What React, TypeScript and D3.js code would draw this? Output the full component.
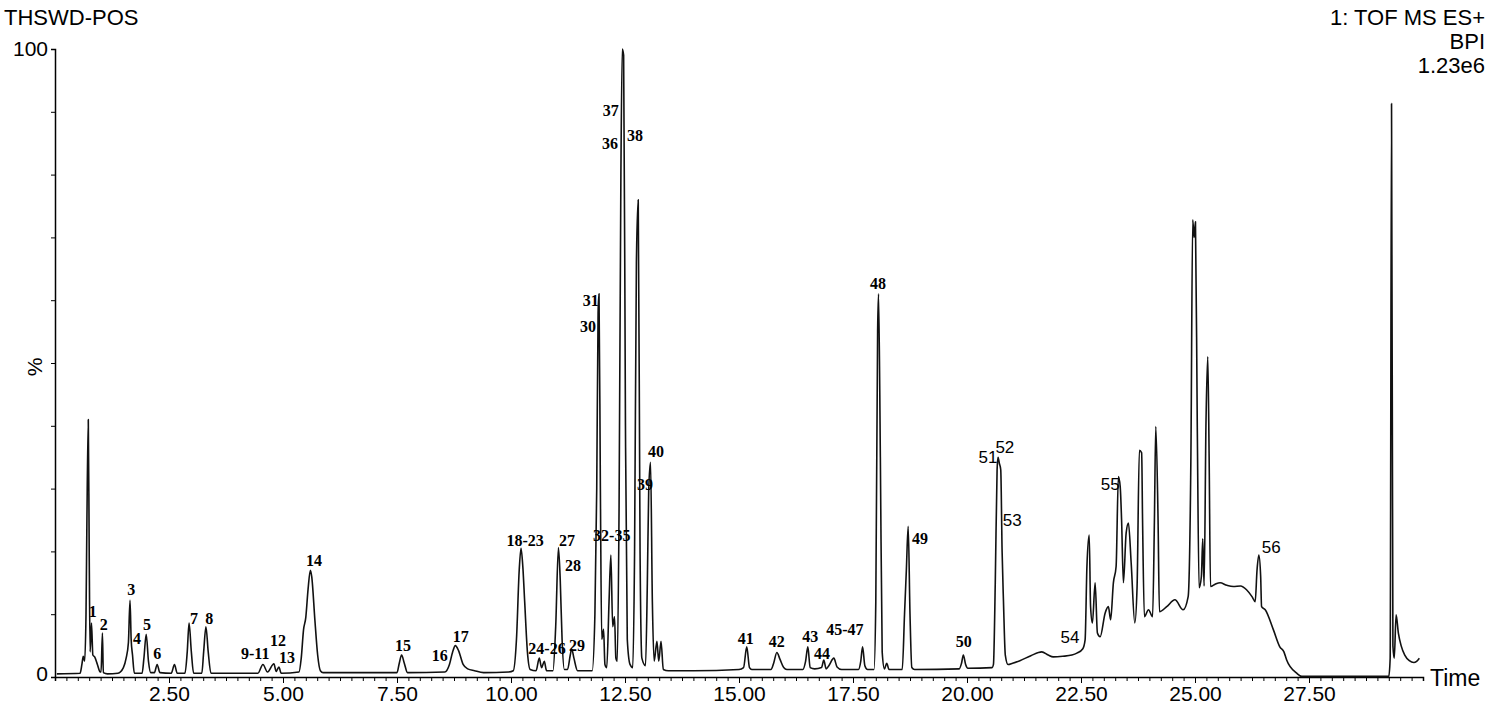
import React, { useRef, useEffect } from 'react'
import * as d3 from 'd3'

const W = 1497
const H = 707

// chromatogram trace: [retention time (min), intensity (%)]
const traceEarly = [
  [0.04, 0.5], [0.55, 0.6], [0.59, 2.0], [0.62, 3.3], [0.65, 2.5], [0.68, 10], [0.70, 25], [0.73, 41],
  [0.75, 20], [0.77, 4], [0.80, 8.6], [0.83, 3.5], [0.87, 3.2], [0.93, 2.0], [0.99, 0.8], [1.01, 0.8],
  [1.04, 7.0], [1.06, 0.7], [1.15, 0.5], [1.38, 0.6], [1.50, 1.5], [1.56, 3.0], [1.61, 5.5], [1.645, 12.2],
  [1.67, 6.0], [1.70, 3.5], [1.74, 0.6], [1.91, 0.6], [1.95, 3.0], [2.00, 6.8], [2.05, 2.5], [2.10, 0.7],
  [2.18, 0.7], [2.24, 2.0], [2.30, 0.7], [2.55, 0.6], [2.62, 2.0], [2.68, 0.6], [2.85, 0.6], [2.90, 4.0],
  [2.94, 8.6], [2.99, 4.0], [3.04, 0.6], [3.22, 0.6], [3.26, 4.0], [3.31, 8.0], [3.36, 4.0], [3.42, 0.6],
  [4.45, 0.6], [4.56, 2.0], [4.66, 0.8], [4.80, 2.1], [4.85, 0.9], [4.91, 1.6], [4.96, 0.6], [5.35, 0.8],
  [5.40, 3.0], [5.45, 7.5], [5.50, 9.5], [5.55, 14], [5.60, 17], [5.63, 16], [5.70, 9], [5.76, 3.5],
  [5.82, 1.0], [5.88, 0.7], [7.50, 0.7], [7.55, 2.2], [7.60, 3.5], [7.66, 2.2], [7.73, 0.7], [8.55, 0.8],
  [8.65, 2.0], [8.72, 4.0], [8.78, 5.0], [8.85, 4.2], [8.95, 2.0], [9.05, 1.3], [9.20, 1.0], [9.40, 0.7],
  [9.95, 0.8],
]

const traceMiddle = [
  [10.05, 1.0], [10.12, 6.0], [10.18, 17.0], [10.22, 20.5], [10.26, 17.5], [10.30, 12.0], [10.36, 4.0],
  [10.42, 1.2], [10.55, 1.0], [10.62, 3.0], [10.67, 1.5], [10.73, 2.5], [10.78, 1.0], [10.92, 1.0],
  [10.98, 8.0], [11.04, 20.6], [11.08, 15.4], [11.12, 6.0], [11.17, 1.2], [11.24, 1.2], [11.30, 3.5],
  [11.33, 4.5], [11.38, 3.0], [11.46, 1.0], [11.78, 1.0], [11.84, 10.0], [11.88, 30.0], [11.91, 58.0],
  [11.93, 61.0], [11.96, 30.0], [11.99, 6.0], [12.03, 7.6], [12.06, 2.0], [12.10, 1.5], [12.15, 12.0],
  [12.19, 19.4], [12.23, 8.0], [12.27, 9.6], [12.30, 3.0], [12.33, 2.5], [12.37, 27.0], [12.41, 80.0],
  [12.44, 100], [12.47, 99], [12.51, 40], [12.55, 6.0], [12.61, 2.0], [12.67, 1.5], [12.71, 20],
  [12.75, 66], [12.79, 76], [12.83, 20], [12.87, 3.0], [12.95, 1.8], [12.99, 15], [13.02, 29.7],
  [13.06, 34.2], [13.10, 12], [13.14, 2.5], [13.20, 5.7], [13.24, 2.5], [13.29, 5.7], [13.34, 1.2],
  [13.45, 1.0],
]

const traceLate = [
  [14.00, 1.0], [15.00, 1.2], [15.10, 1.5], [15.17, 4.8], [15.23, 1.5], [15.28, 1.2], [15.70, 1.2],
  [15.76, 2.2], [15.83, 3.9], [15.90, 2.8], [15.98, 1.5], [16.05, 1.2], [16.40, 1.2], [16.46, 2.5],
  [16.51, 4.8], [16.56, 1.5], [16.66, 1.3], [16.81, 1.5], [16.86, 2.7], [16.91, 1.3], [16.97, 1.8],
  [17.08, 3.0], [17.15, 1.6], [17.25, 1.2], [17.62, 1.2], [17.67, 2.5], [17.71, 4.8], [17.76, 1.8],
  [17.82, 1.2], [17.96, 1.2], [18.00, 12], [18.04, 55], [18.06, 61], [18.10, 35], [18.14, 4],
  [18.19, 1.3], [18.24, 2.2], [18.29, 1.2], [18.58, 1.2], [18.63, 10], [18.67, 17], [18.71, 24],
  [18.75, 10], [18.79, 1.5], [18.85, 1.2], [19.83, 1.3], [19.88, 2.2], [19.92, 3.5], [19.97, 2.0],
  [20.02, 1.4], [20.55, 1.5], [20.58, 2.0], [20.62, 15], [20.66, 33], [20.68, 35], [20.71, 34],
  [20.74, 33], [20.77, 20], [20.80, 12], [20.84, 3.5], [20.90, 2.0], [21.00, 2.2], [21.16, 2.6],
  [21.40, 3.4], [21.64, 4.0], [21.78, 3.5], [21.89, 3.2], [22.10, 3.3], [22.30, 3.5], [22.41, 3.8],
  [22.54, 4.5], [22.59, 5.9], [22.63, 17.6], [22.68, 22.6], [22.71, 11.2], [22.75, 8.6], [22.81, 15],
  [22.86, 7.0], [22.92, 6.4], [23.03, 10.2], [23.10, 11.2], [23.15, 9.1], [23.21, 15], [23.27, 17.6],
  [23.32, 31.9], [23.36, 30.3], [23.39, 25], [23.43, 15], [23.49, 22.9], [23.54, 24.5], [23.60, 18.2],
  [23.68, 8.6], [23.73, 14.4], [23.78, 36.1], [23.83, 35.7], [23.85, 25], [23.89, 9.6], [23.98, 10.7],
  [24.07, 9.6], [24.11, 25], [24.14, 39.9], [24.19, 25], [24.22, 10.4], [24.38, 11.2], [24.56, 12.3],
  [24.74, 10.7], [24.85, 12.8], [24.91, 35], [24.95, 72.8], [24.98, 70], [25.01, 72.5], [25.05, 40],
  [25.09, 14.2], [25.14, 16], [25.17, 22], [25.20, 14.5], [25.24, 40], [25.28, 51], [25.31, 35],
  [25.34, 14.4], [25.45, 14.8], [25.55, 15], [25.70, 14.6], [25.84, 14.4], [26.00, 14.5], [26.13, 13.9],
  [26.25, 12.8], [26.32, 12.0], [26.36, 17], [26.40, 19.4], [26.44, 16], [26.46, 11.2], [26.54, 10.7],
  [26.72, 7.5], [26.86, 4.8], [26.95, 4.0], [27.01, 2.7], [27.23, 0.6], [27.34, 0.1],
]

const traceEnd = [
  [29.25, 0.1], [29.28, 3], [29.31, 91.3], [29.34, 5], [29.37, 3], [29.41, 9.9], [29.46, 7],
  [29.52, 5], [29.60, 3.5], [29.70, 2.6], [29.80, 2.3], [29.86, 2.5], [29.92, 3.0],
]

const xTickValues = [2.5, 5, 7.5, 10, 12.5, 15, 17.5, 20, 22.5, 25, 27.5]
const yTickValues = [0, 10, 20, 30, 40, 50, 60, 70, 80, 90, 100]

// peak numbers: [label, time, intensity] of the label centre
const peakLabels = [
  ['1', 0.83, 10.5], ['2', 1.07, 8.4], ['3', 1.67, 13.9], ['4', 1.80, 6.2], ['5', 2.02, 8.3],
  ['6', 2.24, 3.7], ['7', 3.05, 9.4], ['8', 3.38, 9.4], ['9-11', 4.39, 3.8], ['12', 4.89, 5.9],
  ['13', 5.09, 3.2], ['14', 5.68, 18.5], ['15', 7.63, 5.1], ['16', 8.44, 3.5], ['17', 8.90, 6.5],
  ['18-23', 10.31, 21.7], ['24-26', 10.79, 4.5], ['27', 11.23, 21.7], ['28', 11.36, 17.7],
  ['29', 11.45, 5.1], ['31', 11.75, 60.0], ['30', 11.69, 55.9], ['32-35', 12.21, 22.5],
  ['37', 12.19, 90.3], ['36', 12.17, 85.0], ['38', 12.72, 86.3], ['40', 13.18, 36.0], ['39', 12.94, 30.7],
  ['41', 15.15, 6.1], ['42', 15.83, 5.7], ['43', 16.56, 6.5], ['44', 16.82, 3.7], ['45-47', 17.32, 7.6],
  ['48', 18.05, 62.6], ['49', 18.97, 22.1], ['50', 19.93, 5.7],
]
const latePeakLabels = [
  ['51', 20.46, 35.0], ['52', 20.83, 36.6], ['53', 20.99, 25.0], ['54', 22.26, 6.4],
  ['55', 23.14, 30.7], ['56', 26.67, 20.7],
]

const sampleName = 'THSWD-POS'
const scanInfo = ['1: TOF MS ES+', 'BPI', '1.23e6']

const SANS = '"Liberation Sans", Arial, sans-serif'
const SERIF = '"Liberation Serif", "Times New Roman", serif'

export default function App() {
  const ref = useRef<SVGSVGElement>(null)

  useEffect(() => {
    const svg = d3.select(ref.current)
    svg.selectAll('*').remove()

    const x = d3.scaleLinear().domain([0, 30]).range([55, 1423])
    const y = d3.scaleLinear().domain([0, 100]).range([677, 49])

    // header texts
    svg.append('text')
      .attr('x', 4).attr('y', 25)
      .style('font-family', SANS).style('font-size', '22px')
      .text(sampleName)
    svg.selectAll('.info')
      .data(scanInfo)
      .join('text')
      .attr('x', 1485)
      .attr('y', (d, i) => 25 + i * 24)
      .attr('text-anchor', 'end')
      .style('font-family', SANS).style('font-size', '22px')
      .text(d => d)

    // y axis
    const yAxis = svg.append('g').attr('transform', `translate(${x(0)},0)`)
      .call(d3.axisLeft(y).tickValues(yTickValues).tickSize(4).tickFormat(() => ''))
    yAxis.select('.domain').attr('stroke-width', 1.5)
    svg.append('text').attr('x', 48).attr('y', y(100)).attr('dy', '0.35em')
      .attr('text-anchor', 'end').style('font-family', SANS).style('font-size', '21px').text('100')
    svg.append('text').attr('x', 48).attr('y', y(0)).attr('dy', '0.2em')
      .attr('text-anchor', 'end').style('font-family', SANS).style('font-size', '21px').text('0')
    svg.append('text')
      .attr('transform', `translate(42,${y(50) + 4}) rotate(-90)`)
      .attr('text-anchor', 'middle')
      .style('font-family', SANS).style('font-size', '21px')
      .text('%')

    // x axis: minor ticks every 0.25 min, labelled every 2.5 min
    const minor = d3.range(0, 30.001, 0.25)
    const xAxis = svg.append('g').attr('transform', `translate(0,${y(0)})`)
      .call(d3.axisBottom(x).tickValues(minor).tickSize(4).tickFormat(() => ''))
    xAxis.select('.domain').attr('stroke-width', 1.5)
    svg.append('g').attr('transform', `translate(0,${y(0)})`)
      .call(d3.axisBottom(x).tickValues(xTickValues).tickSize(6).tickPadding(3).tickFormat(d3.format('.2f')))
      .call(g => g.select('.domain').remove())
      .call(g => g.selectAll('text').style('font-family', SANS).style('font-size', '21px').attr('fill', '#000'))
    svg.append('text').attr('x', 1430).attr('y', y(0) + 9)
      .style('font-family', SANS).style('font-size', '23px').text('Time')

    // trace
    const line = d3.line<number[]>()
      .x(d => x(d[0]))
      .y(d => y(d[1]))
      .curve(d3.curveMonotoneX)
    const trace = [...traceEarly, ...traceMiddle, ...traceLate, ...traceEnd]
    svg.append('path')
      .datum(trace)
      .attr('d', line)
      .attr('fill', 'none')
      .attr('stroke', '#111')
      .attr('stroke-width', 1.6)
      .attr('stroke-linejoin', 'round')

    // peak labels
    svg.selectAll('.peak')
      .data(peakLabels)
      .join('text')
      .attr('x', d => x(d[1] as number))
      .attr('y', d => y(d[2] as number))
      .attr('dy', '0.35em')
      .attr('text-anchor', 'middle')
      .style('font-family', SERIF).style('font-size', '16px').style('font-weight', 'bold')
      .text(d => d[0] as string)
    svg.selectAll('.peak-late')
      .data(latePeakLabels)
      .join('text')
      .attr('x', d => x(d[1] as number))
      .attr('y', d => y(d[2] as number))
      .attr('dy', '0.35em')
      .attr('text-anchor', 'middle')
      .style('font-family', SANS).style('font-size', '17px')
      .text(d => d[0] as string)
  }, [])

  return (
    <svg
      ref={ref}
      width={W}
      height={H}
      style={{ position: 'absolute', left: 0, top: 0, background: '#fff' }}
    />
  )
}
